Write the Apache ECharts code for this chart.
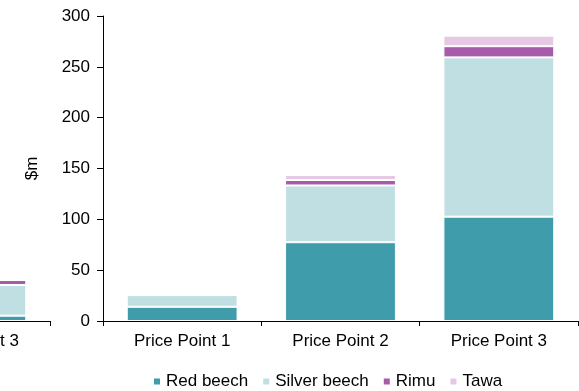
<!DOCTYPE html>
<html>
<head>
<meta charset="utf-8">
<script src="https://cdn.jsdelivr.net/npm/echarts@6/dist/echarts.min.js"></script>
<style>
  html, body { margin: 0; padding: 0; background: #fff; }
  #chart { width: 579px; height: 391px; }
</style>
</head>
<body>
<div id="chart"></div>
<script>
// Categories and stacked values ($m) per species
const categories = ['Price Point 1', 'Price Point 2', 'Price Point 3'];
const redBeech = [14, 77.5, 102.6];
const silverBeech = [11.5, 55.8, 156.7];
const rimu = [0.4, 5.4, 11];
const tawa = [0.3, 4.9, 10.3];

// Neighbouring panel (only its last category falls inside the view)
const panelRedBeech = [null, null, 5.2];
const panelSilverBeech = [null, null, 30.2];
const panelRimu = [null, null, 4.9];
const panelTawa = [null, null, 0];

const yTicks = { min: 0, max: 300, interval: 50 };

const speciesNames = ['Red beech', 'Silver beech', 'Rimu', 'Tawa'];
const colors = ['#3F9CAB', '#C0DFE3', '#A75CAA', '#E5C8E3'];

const font = 'Arial, "Liberation Sans", sans-serif';

function stackSeries(name, data, color, axisIdx, stack) {
  return {
    name: name,
    type: 'bar',
    stack: stack,
    xAxisIndex: axisIdx,
    yAxisIndex: axisIdx,
    data: data,
    barCategoryGap: '30%',
    itemStyle: { color: color, borderColor: '#ffffff', borderWidth: 1 },
    emphasis: { disabled: true },
    animation: false
  };
}

const chart = echarts.init(document.getElementById('chart'), null, { renderer: 'canvas' });

const axisLine = { show: true, lineStyle: { color: '#000', width: 1 } };
const axisTick = { show: true, length: 5, lineStyle: { color: '#000', width: 1 } };

chart.setOption({
  animation: false,
  textStyle: { fontFamily: font },
  color: colors,
  legend: {
    data: speciesNames,
    left: 147,
    top: 368,
    icon: 'rect',
    itemWidth: 8,
    itemHeight: 8,
    itemGap: 13,
    textStyle: { fontSize: 17, color: '#000', fontFamily: font }
  },
  grid: [
    { left: 103, right: 1, top: 16, bottom: 70, outerBoundsMode: 'none', containLabel: false },
    { left: -425, width: 475, top: 16, bottom: 70, outerBoundsMode: 'none', containLabel: false }
  ],
  xAxis: [
    {
      type: 'category', gridIndex: 0, data: categories,
      axisLine: axisLine, axisTick: axisTick,
      axisLabel: { color: '#000', fontSize: 17, margin: 12, fontFamily: font }
    },
    {
      type: 'category', gridIndex: 1, data: categories,
      axisLine: axisLine, axisTick: axisTick,
      axisLabel: { color: '#000', fontSize: 17, margin: 12, fontFamily: font }
    }
  ],
  yAxis: [
    {
      type: 'value', gridIndex: 0,
      min: yTicks.min, max: yTicks.max, interval: yTicks.interval,
      name: '$m', nameLocation: 'middle', nameGap: 62,
      nameTextStyle: { color: '#000', fontSize: 17, fontFamily: font },
      axisLine: axisLine,
      axisTick: { show: true, length: 6, lineStyle: { color: '#000' } },
      axisLabel: { color: '#000', fontSize: 17, margin: 13, fontFamily: font },
      splitLine: { show: false }
    },
    {
      type: 'value', gridIndex: 1,
      min: yTicks.min, max: yTicks.max, interval: yTicks.interval,
      show: false, splitLine: { show: false }
    }
  ],
  series: [
    stackSeries(speciesNames[0], redBeech, colors[0], 0, 'main'),
    stackSeries(speciesNames[1], silverBeech, colors[1], 0, 'main'),
    stackSeries(speciesNames[2], rimu, colors[2], 0, 'main'),
    stackSeries(speciesNames[3], tawa, colors[3], 0, 'main'),
    stackSeries(speciesNames[0], panelRedBeech, colors[0], 1, 'panel'),
    stackSeries(speciesNames[1], panelSilverBeech, colors[1], 1, 'panel'),
    stackSeries(speciesNames[2], panelRimu, colors[2], 1, 'panel'),
    stackSeries(speciesNames[3], panelTawa, colors[3], 1, 'panel')
  ]
});
</script>
</body>
</html>
